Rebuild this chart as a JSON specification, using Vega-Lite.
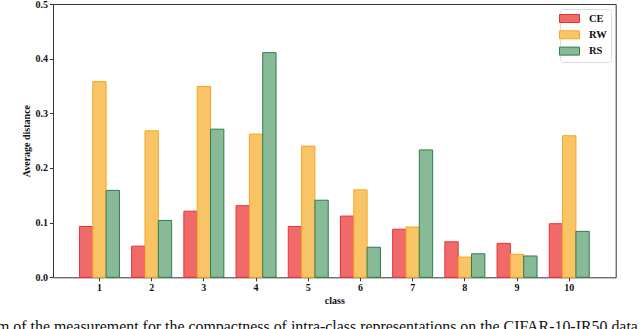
{
  "$schema": "https://vega.github.io/schema/vega-lite/v6.json",
  "width": 562.7,
  "height": 273.3,
  "autosize": {"type": "none"},
  "padding": {"left": 53, "top": 4, "right": 24.3, "bottom": 51.7},
  "background": "white",
  "config": {
    "view": {"stroke": "#333333", "strokeWidth": 1},
    "font": "Liberation Serif"
  },
  "title": {
    "text": "m of the measurement for the compactness of intra-class representations on the CIFAR-10-IR50 data",
    "orient": "bottom",
    "anchor": "start",
    "frame": "group",
    "font": "Liberation Serif",
    "fontSize": 15.9,
    "fontWeight": "normal",
    "color": "#111111",
    "dx": -56,
    "offset": 13
  },
  "data": {
    "values": [
      {"class": "1", "method": "CE", "value": 0.093},
      {"class": "1", "method": "RW", "value": 0.358},
      {"class": "1", "method": "RS", "value": 0.159},
      {"class": "2", "method": "CE", "value": 0.057},
      {"class": "2", "method": "RW", "value": 0.268},
      {"class": "2", "method": "RS", "value": 0.104},
      {"class": "3", "method": "CE", "value": 0.121},
      {"class": "3", "method": "RW", "value": 0.349},
      {"class": "3", "method": "RS", "value": 0.271},
      {"class": "4", "method": "CE", "value": 0.131},
      {"class": "4", "method": "RW", "value": 0.262},
      {"class": "4", "method": "RS", "value": 0.411},
      {"class": "5", "method": "CE", "value": 0.093},
      {"class": "5", "method": "RW", "value": 0.240},
      {"class": "5", "method": "RS", "value": 0.141},
      {"class": "6", "method": "CE", "value": 0.112},
      {"class": "6", "method": "RW", "value": 0.160},
      {"class": "6", "method": "RS", "value": 0.055},
      {"class": "7", "method": "CE", "value": 0.088},
      {"class": "7", "method": "RW", "value": 0.092},
      {"class": "7", "method": "RS", "value": 0.233},
      {"class": "8", "method": "CE", "value": 0.065},
      {"class": "8", "method": "RW", "value": 0.037},
      {"class": "8", "method": "RS", "value": 0.043},
      {"class": "9", "method": "CE", "value": 0.062},
      {"class": "9", "method": "RW", "value": 0.042},
      {"class": "9", "method": "RS", "value": 0.039},
      {"class": "10", "method": "CE", "value": 0.098},
      {"class": "10", "method": "RW", "value": 0.259},
      {"class": "10", "method": "RS", "value": 0.084}
    ]
  },
  "mark": {"type": "bar", "strokeWidth": 1},
  "encoding": {
    "x": {
      "field": "class",
      "type": "nominal",
      "sort": ["1","2","3","4","5","6","7","8","9","10"],
      "scale": {"paddingInner": 0.234, "paddingOuter": 0.507},
      "axis": {
        "title": "class",
        "labelAngle": 0,
        "labelFont": "Liberation Serif",
        "labelFontWeight": "bold",
        "labelFontSize": 10,
        "labelColor": "#111111",
        "labelPadding": 2,
        "titleFont": "Liberation Serif",
        "titleFontWeight": "bold",
        "titleFontSize": 10,
        "titleColor": "#111111",
        "titlePadding": 3,
        "domain": false,
        "tickColor": "#333333",
        "tickSize": 3.5,
        "grid": false
      }
    },
    "xOffset": {
      "field": "method",
      "type": "nominal",
      "sort": ["CE","RW","RS"],
      "scale": {"paddingInner": 0, "paddingOuter": 0}
    },
    "y": {
      "field": "value",
      "type": "quantitative",
      "scale": {"domain": [0, 0.5], "nice": false, "zero": true},
      "axis": {
        "title": "Average distance",
        "values": [0, 0.1, 0.2, 0.3, 0.4, 0.5],
        "format": ".1f",
        "labelFont": "Liberation Serif",
        "labelFontWeight": "bold",
        "labelFontSize": 10,
        "labelColor": "#111111",
        "labelPadding": 2,
        "titleFont": "Liberation Serif",
        "titleFontWeight": "bold",
        "titleFontSize": 10,
        "titleColor": "#111111",
        "titlePadding": 4,
        "domain": false,
        "tickColor": "#333333",
        "tickSize": 3.5,
        "grid": false
      }
    },
    "fill": {
      "field": "method",
      "type": "nominal",
      "scale": {"domain": ["CE","RW","RS"], "range": ["#f06a6a", "#f9c466", "#88ba97"]},
      "legend": {
        "title": null,
        "orient": "top-right",
        "offset": 5,
        "fillColor": "white",
        "strokeColor": "#dddddd",
        "cornerRadius": 3,
        "padding": 4,
        "rowPadding": 3.3,
        "symbolType": "M-2,-0.8H2V0.8H-2Z",
        "symbolSize": 100,
        "symbolStrokeWidth": 1,
        "labelFont": "Liberation Serif",
        "labelFontWeight": "bold",
        "labelFontSize": 10.5,
        "labelColor": "#111111",
        "labelOffset": 14
      }
    },
    "stroke": {
      "field": "method",
      "type": "nominal",
      "scale": {"domain": ["CE","RW","RS"], "range": ["#e8303a", "#f5a524", "#2e7d4c"]},
      "legend": {
        "title": null,
        "orient": "top-right",
        "offset": 5,
        "fillColor": "white",
        "strokeColor": "#dddddd",
        "cornerRadius": 3,
        "padding": 4,
        "rowPadding": 3.3,
        "symbolType": "M-2,-0.8H2V0.8H-2Z",
        "symbolSize": 100,
        "symbolStrokeWidth": 1,
        "labelFont": "Liberation Serif",
        "labelFontWeight": "bold",
        "labelFontSize": 10.5,
        "labelColor": "#111111",
        "labelOffset": 14
      }
    }
  }
}
